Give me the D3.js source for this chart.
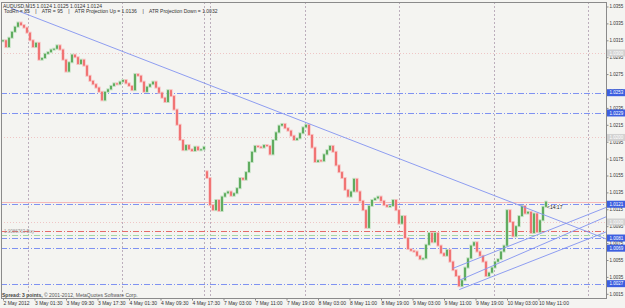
<!DOCTYPE html>
<html>
<head>
<meta charset="utf-8">
<script src="https://cdn.jsdelivr.net/npm/d3@7/dist/d3.min.js"></script>
<style>
    body { margin: 0; background: #ffffff; }
    svg text { font-family: "Liberation Sans", Arial, sans-serif; }
</style>
</head>
<body>
<div id="chart"></div>
<script>
// AUDUSD M15, one candle here = 45 minutes, closes
const closes = [
    1.0315, 1.0307, 1.0318, 1.0325, 1.0331, 1.0336, 1.0333, 1.0330, 1.0324, 1.0315,
    1.0307, 1.0312, 1.0292, 1.0294, 1.0299, 1.0301, 1.0304, 1.0305, 1.0309, 1.0304,
    1.0292, 1.0278, 1.0289, 1.0298, 1.0295, 1.0287, 1.0292, 1.0285, 1.0273, 1.0267,
    1.0263, 1.0259, 1.0254, 1.0244, 1.0254, 1.0257, 1.0261, 1.0264, 1.0263, 1.0266,
    1.0268, 1.0264, 1.0261, 1.0256, 1.0275, 1.0273, 1.0266, 1.0254, 1.0260, 1.0263,
    1.0266, 1.0259, 1.0253, 1.0247, 1.0242, 1.0256, 1.0249, 1.0233, 1.0215, 1.0197,
    1.0185, 1.0191, 1.0186, 1.0184, 1.0189, 1.0185, 1.0186, 1.0189, 1.0152, 1.0120,
    1.0114, 1.0126, 1.0113, 1.0130, 1.0134, 1.0136, 1.0131, 1.0134, 1.0140, 1.0152,
    1.0150, 1.0159, 1.0171, 1.0183, 1.0190, 1.0189, 1.0188, 1.0191, 1.0190, 1.0180,
    1.0197, 1.0206, 1.0214, 1.0216, 1.0211, 1.0208, 1.0202, 1.0197, 1.0199, 1.0205,
    1.0212, 1.0215, 1.0203, 1.0188, 1.0171, 1.0173, 1.0172, 1.0180, 1.0185, 1.0190,
    1.0183, 1.0167, 1.0159, 1.0152, 1.0138, 1.0130, 1.0136, 1.0151, 1.0136, 1.0125,
    1.0114, 1.0093, 1.0119, 1.0126, 1.0128, 1.0130, 1.0125, 1.0120, 1.0118, 1.0119,
    1.0126, 1.0114, 1.0098, 1.0107, 1.0081, 1.0068, 1.0066, 1.0065, 1.0060, 1.0056,
    1.0057, 1.0073, 1.0087, 1.0076, 1.0087, 1.0072, 1.0063, 1.0060, 1.0067, 1.0053,
    1.0043, 1.0036, 1.0024, 1.0031, 1.0046, 1.0057, 1.0072, 1.0076, 1.0065, 1.0060,
    1.0053, 1.0036, 1.0040, 1.0046, 1.0053, 1.0056, 1.0065, 1.0072, 1.0114, 1.0100,
    1.0083, 1.0095, 1.0107, 1.0119, 1.0110, 1.0112, 1.0087, 1.0110, 1.0088, 1.0102,
    1.0118, 1.0124
];
// monday open after the weekend gap [candle, open]
const sessionOpens = [[68, 1.0160]];

const priceTicks = [1.0015, 1.0035, 1.0055, 1.0075, 1.0095, 1.0115, 1.0135, 1.0155, 1.0175,
    1.0195, 1.0215, 1.0235, 1.0255, 1.0275, 1.0295, 1.0315, 1.0335, 1.0355];
const gridPrices = [1.0300, 1.0200, 1.0100];
const timeTickPos = [0, 10.5, 21, 31.5, 42, 52.5, 63, 73.5, 84, 94.5, 105, 115.5, 126, 136.5, 147, 157.5, 168, 178.5];
const timeTickLabels = ["2 May 2012", "3 May 01:30", "3 May 09:30", "3 May 17:30", "4 May 01:30", "4 May 09:30",
    "4 May 17:30", "7 May 03:00", "7 May 11:00", "7 May 19:00", "8 May 03:00", "8 May 11:00", "8 May 19:00",
    "9 May 03:00", "9 May 11:00", "9 May 19:00", "10 May 03:00", "10 May 11:00"];
const dayLines = [8.3, 39.7, 67, 69, 100.7, 132, 163.7, 195];

const blueLevels = [1.0253, 1.0229, 1.0121, 1.0081, 1.0069, 1.0027];
const redLevel = 1.0089;
const greenLevel = 1.0085;
const bidPrice = 1.0124;

// trendlines: [candle1, price1, candle2, price2]
const trendLines = [
    [2.7, 1.0353, 201.7, 1.0079],
    [149.9, 1.0045, 201.6, 1.0118],
    [152.1, 1.0031, 201.6, 1.0107],
    [152.1, 1.0020, 201.6, 1.0089]
];

class CandleChart {
    constructor(parentElement) {
        this.parentElement = parentElement;
        this.initVis();
    }

    initVis() {
        let vis = this;
        vis.width = 625;
        vis.height = 308;
        vis.left = 1;
        vis.right = 606;
        vis.top = 2;
        vis.bottom = 298;

        vis.svg = d3.select("#" + vis.parentElement)
            .append("svg")
            .attr("width", vis.width)
            .attr("height", vis.height);

        vis.svg.append("rect")
            .attr("width", vis.width)
            .attr("height", vis.height)
            .attr("fill", "#f4f4f1");

        vis.x = d3.scaleLinear().domain([0, 200]).range([3, 603]);
        vis.y = d3.scaleLinear().domain([1.0015, 1.0355]).range([293.8, 6.5]);

        vis.svg.append("clipPath").attr("id", "plot-clip")
            .append("rect")
            .attr("x", vis.left).attr("y", vis.top)
            .attr("width", vis.right - vis.left).attr("height", vis.bottom - vis.top);

        vis.plot = vis.svg.append("g").attr("clip-path", "url(#plot-clip)");

        vis.wrangleData();
        vis.updateVis();
    }

    wrangleData() {
        let vis = this;
        let opens = {};
        sessionOpens.forEach(d => { opens[d[0]] = d[1]; });
        vis.candles = closes.map((c, i) => {
            let o = opens[i] !== undefined ? opens[i] : (i > 0 ? closes[i - 1] : c);
            return {i: i, open: o, close: c};
        });
    }

    updateVis() {
        let vis = this;
        let x = vis.x, y = vis.y;

        // grid
        vis.plot.selectAll(".hgrid")
            .data(gridPrices)
            .enter().append("line")
            .attr("class", "hgrid")
            .attr("x1", vis.left).attr("x2", vis.right)
            .attr("y1", d => Math.round(y(d)) + 0.5).attr("y2", d => Math.round(y(d)) + 0.5)
            .attr("stroke", "#efc6c6")
            .attr("stroke-dasharray", "1,2");

        vis.plot.selectAll(".vgrid")
            .data(dayLines)
            .enter().append("line")
            .attr("class", "vgrid")
            .attr("x1", d => Math.round(x(d)) + 0.5).attr("x2", d => Math.round(x(d)) + 0.5)
            .attr("y1", vis.top).attr("y2", vis.bottom)
            .attr("stroke", "#bcaebc")
            .attr("stroke-dasharray", "2,2");

        // horizontal levels
        let hl = (p, color, dash) => {
            let l = vis.plot.append("line")
                .attr("x1", vis.left).attr("x2", vis.right)
                .attr("y1", Math.round(y(p)) + 0.5).attr("y2", Math.round(y(p)) + 0.5)
                .style("stroke", color)
                .attr("stroke-width", 1);
            if (dash) l.attr("stroke-dasharray", dash);
        };
        hl(bidPrice, "#f4b8b8", null);
        blueLevels.forEach(p => hl(p, "#7f92f2", "6,2,1,2"));
        hl(redLevel, "#e46a6a", "6,2,1,2");
        hl(greenLevel, "#a6d6a6", "6,2,1,2");

        // candles, with a pale halo like the reference
        let colour = d => d.close >= d.open ? "#4aa04a" : "#ef6262";
        let halo = d => d.close >= d.open ? "#bcdfbc" : "#f7bfbf";
        vis.plot.selectAll(".halo")
            .data(vis.candles)
            .enter().append("rect")
            .attr("class", "halo")
            .attr("x", d => x(d.i) - 1.6)
            .attr("width", 3.2)
            .attr("y", d => y(Math.max(d.open, d.close)) - 1)
            .attr("height", d => Math.max(1, Math.abs(y(d.open) - y(d.close))) + 2)
            .attr("fill", halo);

        vis.plot.selectAll(".candle")
            .data(vis.candles)
            .enter().append("rect")
            .attr("class", "candle")
            .attr("x", d => x(d.i) - 0.8)
            .attr("width", 1.6)
            .attr("y", d => y(Math.max(d.open, d.close)))
            .attr("height", d => Math.max(1, Math.abs(y(d.open) - y(d.close))))
            .attr("fill", colour);

        // trendlines
        vis.plot.selectAll(".trend")
            .data(trendLines)
            .enter().append("line")
            .attr("class", "trend")
            .attr("x1", d => x(d[0])).attr("y1", d => y(d[1]))
            .attr("x2", d => x(d[2])).attr("y2", d => y(d[3]))
            .attr("stroke", "#8293f0")
            .attr("stroke-width", 0.9);

        // frame
        vis.svg.append("rect")
            .attr("x", vis.left + 0.5).attr("y", vis.top + 0.5)
            .attr("width", vis.right - vis.left).attr("height", vis.bottom - vis.top)
            .attr("fill", "none")
            .attr("stroke", "#8a8a8a");

        // price axis
        let yAxis = d3.axisRight(y)
            .tickValues(priceTicks)
            .tickSize(2)
            .tickFormat(d3.format(".4f"));
        let ya = vis.svg.append("g")
            .attr("transform", "translate(" + (vis.right + 0.5) + ",0)")
            .call(yAxis);
        ya.select(".domain").remove();
        ya.selectAll("line").attr("stroke", "#8a8a8a");
        ya.selectAll("text")
            .attr("x", 3)
            .attr("font-size", "4.5px")
            .attr("fill", "#333");

        // price boxes
        let box = (p, fill, txt) => {
            let g = vis.svg.append("g").attr("transform", "translate(" + (vis.right + 1) + "," + y(p) + ")");
            g.append("rect").attr("x", 0).attr("y", -3.5).attr("width", 18).attr("height", 7).attr("fill", fill);
            g.append("text").attr("x", 2.5).attr("y", 1.6).attr("font-size", "4.5px").attr("fill", txt)
                .text(d3.format(".4f")(p));
        };
        gridPrices.forEach(p => box(p, "#d2d2d2", "#ffffff"));
        blueLevels.forEach(p => box(p, "#3d5fe0", "#ffffff"));

        // time axis
        let xAxis = d3.axisBottom(x)
            .tickValues(timeTickPos)
            .tickSize(2)
            .tickFormat((d, i) => timeTickLabels[i]);
        let xa = vis.svg.append("g")
            .attr("transform", "translate(0," + (vis.bottom + 0.5) + ")")
            .call(xAxis);
        xa.select(".domain").remove();
        xa.selectAll("line").attr("stroke", "#8a8a8a");
        xa.selectAll("text")
            .attr("text-anchor", "start")
            .attr("x", 0)
            .attr("y", 3)
            .attr("dy", "0.71em")
            .attr("font-size", "5px")
            .attr("fill", "#333");

        // texts
        vis.svg.append("text").attr("x", 3).attr("y", 8).attr("font-size", "5px").attr("fill", "#333")
            .text("AUDUSD,M15  1.0124 1.0125 1.0124 1.0124");
        vis.svg.append("text").attr("x", 4).attr("y", 13).attr("font-size", "5px").attr("fill", "#333")
            .attr("xml:space", "preserve")
            .text("TodRn = 85    |    ATR = 95    |    ATR Projection Up = 1.0136    |    ATR Projection Down = 1.0032");
        vis.svg.append("text").attr("x", 4).attr("y", 233).attr("font-size", "4.5px").attr("fill", "#999")
            .text("1.0086763 Buy");
        vis.svg.append("text").attr("x", 547).attr("y", 209).attr("font-size", "5px").attr("fill", "#222")
            .text("<14:17");
        let foot = vis.svg.append("text").attr("x", 2).attr("y", 297).attr("font-size", "5px").attr("fill", "#555");
        foot.append("tspan").attr("font-weight", "bold").attr("fill", "#444").text("Spread: 3 points, ");
        foot.append("tspan").text("\u00a9 2001-2012, MetaQuotes Software Corp.");
    }
}

new CandleChart("chart");
</script>
</body>
</html>
